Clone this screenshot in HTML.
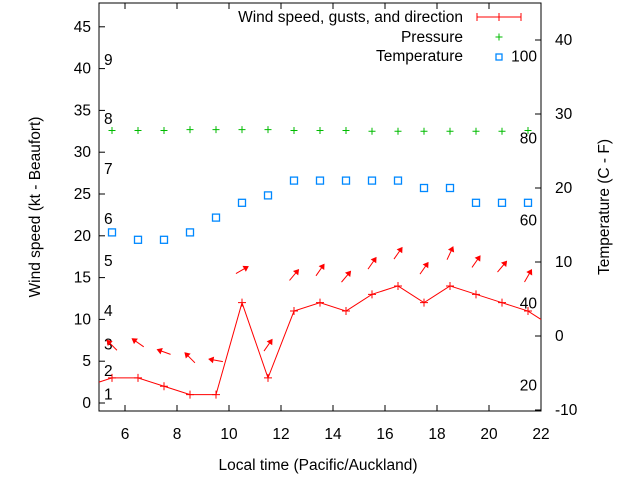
<!DOCTYPE html>
<html><head><meta charset="utf-8"><style>
body{margin:0;background:#fff}
svg text{font-family:"Liberation Sans",sans-serif;font-size:15.5px;fill:#000}
</style></head><body>
<svg id="c" width="640" height="480" viewBox="0 0 640 480"></svg>
<script>
const times=[5.5,6.5,7.5,8.5,9.5,10.5,11.5,12.5,13.5,14.5,15.5,16.5,17.5,18.5,19.5,20.5,21.5];
const windSpeed=[3,3,2,1,1,12,3,11,12,11,13,14,12,14,13,12,11];
const gustLevel=[6.9,7.2,6.1,5.4,5.1,15.9,6.9,15.3,15.9,15.1,16.7,17.9,16.1,17.9,16.9,16.3,15.2];
const windAngle=[135,145,160,135,170,30,55,50,55,50,55,55,55,65,55,50,60];
const pressure=[32.6,32.6,32.6,32.7,32.7,32.7,32.7,32.6,32.6,32.6,32.5,32.5,32.5,32.5,32.5,32.5,32.6];
const temperature=[14,13,13,14,16,18,19,21,21,21,21,21,20,20,18,18,18];
const xTicks=[6,8,10,12,14,16,18,20,22];
const yTicks=[0,5,10,15,20,25,30,35,40,45];
const y2Ticks=[-10,0,10,20,30,40];
const beaufort=[[1,1],[2,3.8],[3,7],[4,11],[5,17],[6,22],[7,28],[8,34],[9,41]];
const fahr=[[20,-6.7],[40,4.4],[60,15.6],[80,26.7],[100,37.8]];
const L=99,R=541,T=3,B=411;
const sx=v=>L+(v-5)*(R-L)/17;
const sy=v=>403-v*8.36;
const sy2=v=>336-v*7.4;
const svg=document.getElementById('c');const NS='http://www.w3.org/2000/svg';
function mk(t,a,txt){const e=document.createElementNS(NS,t);for(const k in a)e.setAttribute(k,a[k]);if(txt!=null)e.textContent=txt;svg.appendChild(e);return e;}
let e;
e=mk('rect',{x:L,y:T,width:R-L,height:B-T,fill:'none',stroke:'#000','stroke-width':1});

xTicks.forEach(v=>{const x=sx(v);
 e=mk('line',{x1:x,y1:B,x2:x,y2:B-6,stroke:'#000'});
 e=mk('line',{x1:x,y1:T,x2:x,y2:T+6,stroke:'#000'});
 e=mk('text',{x:x,y:439,'text-anchor':'middle'},v);});
yTicks.forEach(v=>{const y=sy(v);
 e=mk('line',{x1:L,y1:y,x2:L+6,y2:y,stroke:'#000'});
 e=mk('text',{x:L-8,y:y+5,'text-anchor':'end'},v);});
y2Ticks.forEach(v=>{const y=sy2(v);
 e=mk('line',{x1:R,y1:y,x2:R-6,y2:y,stroke:'#000'});
 e=mk('text',{x:R+14,y:y+5},v);});
beaufort.forEach(b=>{e=mk('text',{x:104,y:sy(b[1])+5},b[0]);});
fahr.forEach(f=>{e=mk('text',{x:537,y:sy2(f[1])+5,'text-anchor':'end'},f[0]);});
e=mk('text',{x:318,y:470,'text-anchor':'middle'},'Local time (Pacific/Auckland)');
e=mk('text',{x:0,y:0,'text-anchor':'middle',transform:'translate(40,207) rotate(-90)'},'Wind speed (kt - Beaufort)');
e=mk('text',{x:0,y:0,'text-anchor':'middle',transform:'translate(609,207) rotate(-90)'},'Temperature (C - F)');
let pts=[[L,sy(2.5)]].concat(times.map((t,i)=>[sx(t),sy(windSpeed[i])])).concat([[R,sy(10)]]);
e=mk('polyline',{points:pts.map(p=>p.join(',')).join(' '),fill:'none',stroke:'#f00','stroke-width':1});
times.forEach((t,i)=>{const x=sx(t),y=sy(windSpeed[i]);
 e=mk('path',{d:`M${x-4},${y}H${x+4}M${x},${y-4}V${y+4}`,stroke:'#f00'});
 const a=windAngle[i]*Math.PI/180,cx=sx(t),cy=sy(gustLevel[i]),dx=Math.cos(a)*7,dy=-Math.sin(a)*7;
 const x2=cx+dx,y2=cy+dy,ux=dx/7,uy=dy/7;
 e=mk('path',{d:`M${cx-dx},${cy-dy}L${x2},${y2}M${x2},${y2}L${x2-ux*4-uy*2.5},${y2-uy*4+ux*2.5}L${x2-ux*4+uy*2.5},${y2-uy*4-ux*2.5}Z`,stroke:'#f00',fill:'#f00','stroke-width':1});
 
 const px=sx(t),py=sy(pressure[i]);
 e=mk('path',{d:`M${px-3.5},${py}H${px+3.5}M${px},${py-3.5}V${py+3.5}`,stroke:'#0b0'});
 const tx=sx(t),ty=sy2(temperature[i]);
 e=mk('rect',{x:tx-3.5,y:ty-3.5,width:7,height:7,fill:'none',stroke:'#08f','stroke-width':1.3});
});
e=mk('text',{x:463,y:22,'text-anchor':'end'},'Wind speed, gusts, and direction');
e=mk('path',{d:'M477,17H521M477,13V21M499,13V21M521,13V21',stroke:'#f00'});
e=mk('text',{x:463,y:42,'text-anchor':'end'},'Pressure');
e=mk('path',{d:'M495.5,37H502.5M499,33.5V40.5',stroke:'#0b0'});
e=mk('text',{x:463,y:61,'text-anchor':'end'},'Temperature');
e=mk('rect',{x:496,y:54,width:6,height:6,fill:'none',stroke:'#08f','stroke-width':1.3});
</script>
</body></html>
